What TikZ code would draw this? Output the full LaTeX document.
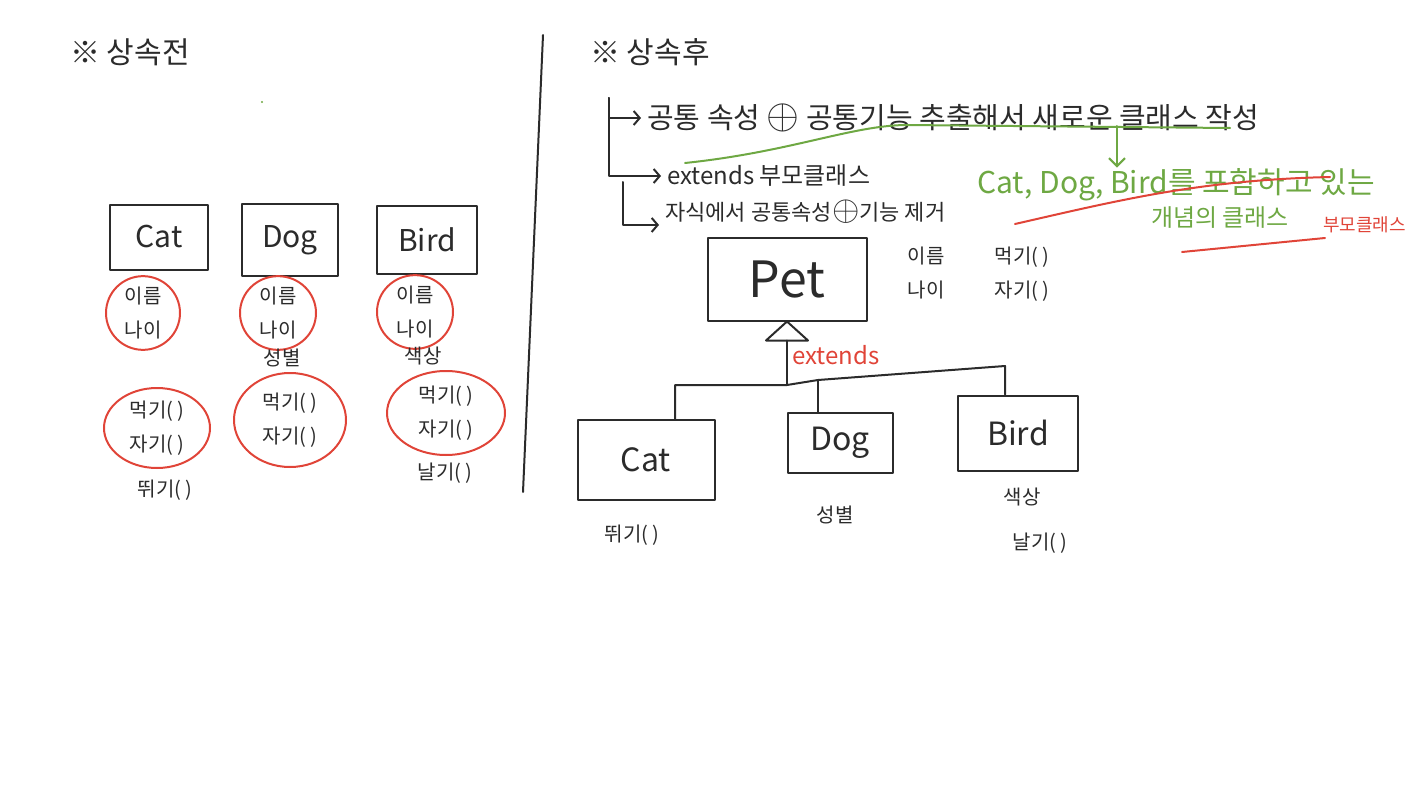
\documentclass[tikz,border=0pt]{standalone}
\usepackage{fontspec}
\setmainfont{Noto Sans CJK KR}
\usetikzlibrary{positioning, shapes.geometric, arrows.meta}
\definecolor{ink}{HTML}{2B2B2B}
\definecolor{redpen}{HTML}{E04438}
\definecolor{greenpen}{HTML}{6EA843}
\newcommand{\plusmark}{\scalebox{1.7}{$\oplus$}}

\begin{document}
\begin{tikzpicture}[
  x=1pt, y=-1pt,
  every node/.style={inner sep=1pt, text=ink},
  pen/.style={draw=ink, line width=2pt, line join=round, line cap=round},
  classbox/.style={pen, rectangle, inner sep=0pt, font=\fontsize{30}{32}\selectfont},
  redring/.style={draw=redpen, line width=2pt, ellipse, inner sep=0pt, align=center, font=\fontsize{20}{34}\selectfont},
  memo/.style={font=\fontsize{20}{34}\selectfont, align=center},
  heading/.style={font=\fontsize{30}{34}\selectfont},
  gpen/.style={draw=greenpen, line width=2pt, line cap=round},
  rpen/.style={draw=redpen, line width=2pt, line cap=round},
  arr/.style={pen, shorten >=5pt, -{Straight Barb[length=6pt, width=14pt]}}
]
  \useasboundingbox (0,0) rectangle (1422,800);

  \node[heading] (before) at (130,52) {※ 상속전};
  \node[heading] (after) at (650,52) {※ 상속후};
  \coordinate (divtop) at (543,35);
  \coordinate (divbot) at (523,492);
  \draw[pen] (divtop) -- (divbot);

  \node[classbox, minimum width=98, minimum height=65] (catL) at (159,237) {Cat};
  \node[classbox, minimum width=96, minimum height=72] (dogL) at (290,240) {Dog};
  \node[classbox, minimum width=100, minimum height=68] (birdL) at (427,240) {Bird};

  \node[redring, minimum width=74, minimum height=68] (nameL1) at (143,313) {이름\\나이};
  \node[redring, minimum width=76, minimum height=66] (nameL2) at (278,313) {이름\\나이};
  \node[redring, minimum width=76, minimum height=66] (nameL3) at (415,312) {이름\\나이};
  \node[memo] (sexL) at (282,358) {성별};
  \node[memo] (colorL) at (423,356) {색상};

  \node[redring, minimum width=106, minimum height=80] (actL1) at (157,428) {먹기( )\\자기( )};
  \node[redring, minimum width=112, minimum height=94] (actL2) at (290,420) {먹기( )\\자기( )};
  \node[redring, minimum width=118, minimum height=84] (actL3) at (446,413) {먹기( )\\자기( )};
  \node[memo] (runL) at (165,490) {뛰기( )};
  \node[memo] (flyL) at (445,473) {날기( )};
  \fill[greenpen] (262,102) circle (1.2);

  \node[anchor=west, font=\fontsize{29}{31}\selectfont] (step1) at (646,118) {공통 속성 \plusmark{} 공통기능 추출해서 새로운 클래스 작성};
  \node[anchor=west, font=\fontsize{24}{26}\selectfont] (step2) at (666,176) {extends 부모클래스};
  \node[anchor=west, font=\fontsize{22}{24}\selectfont] (step3) at (664,212) {자식에서 공통속성\plusmark{}기능 제거};
  \coordinate (brA) at (609,98);
  \coordinate (brB) at (623,182);
  \draw[arr] (brA) |- (step1.west);
  \draw[arr] (brA) |- (step2.west);
  \draw[arr] (brB) |- (step3.south west);

  \coordinate (ul1) at (685,163);
  \coordinate (ul2) at (905,125);
  \coordinate (ul3) at (1230,128);
  \draw[gpen] (ul1) .. controls (790,152) and (850,126) .. (ul2) -- (ul3);
  \node[anchor=west, text=greenpen, font=\fontsize{30}{32}\selectfont] (concept1) at (976,185) {Cat, Dog, Bird를 포함하고 있는};
  \node[anchor=west, text=greenpen, font=\fontsize{24}{26}\selectfont] (concept2) at (1150,218) {개념의 클래스};
  \node[anchor=west, text=redpen, font=\fontsize{18}{20}\selectfont] (parent) at (1322,225) {부모클래스};
  \coordinate (gA) at (1117,126);
  \draw[gpen, -{Straight Barb[length=8pt, width=16pt]}] (gA) -- (gA |- concept1.north);
  \coordinate (rs1) at (1015,224);
  \coordinate (rs2) at (1330,177);
  \draw[rpen] (rs1) .. controls (1120,200) and (1200,180) .. (rs2);
  \coordinate (ru1) at (1182,252);
  \coordinate (ru2) at (1325,238);
  \draw[rpen] (ru1) -- (ru2);

  \node[classbox, minimum width=159, minimum height=83, font=\fontsize{50}{52}\selectfont] (pet) at (787,279) {Pet};
  \node[memo] (petAttr) at (926,273) {이름\\나이};
  \node[memo] (petAct) at (1022,274) {먹기( )\\자기( )};

  \coordinate (tri) at ([yshift=-19pt]pet.south);
  \draw[pen] (pet.south) -- ++(-21,19) -- ++(42,0) -- cycle;
  \node[text=redpen, font=\fontsize{24}{26}\selectfont] (ext) at (836,355) {extends};

  \node[classbox, minimum width=137, minimum height=80, font=\fontsize{32}{34}\selectfont] (cat) at (646,460) {Cat};
  \node[classbox, minimum width=105, minimum height=60, font=\fontsize{32}{34}\selectfont] (dog) at (840,443) {Dog};
  \node[classbox, minimum width=120, minimum height=75, font=\fontsize{32}{34}\selectfont] (bird) at (1018,433) {Bird};

  \coordinate (hub) at (tri |- 0,385);
  \coordinate (cL) at (675,385);
  \coordinate (dM) at (818,380);
  \coordinate (bR) at (1005,366);
  \draw[pen] (tri) -- (hub);
  \draw[pen] (cat.north -| cL) -- (cL) -- (hub) -- (dM) -- (bR) -- (bird.north -| bR);
  \draw[pen] (dM) -- (dog.north -| dM);

  \node[memo] (runR) at (632,535) {뛰기( )};
  \node[memo] (sexR) at (835,515) {성별};
  \node[memo] (colorR) at (1022,497) {색상};
  \node[memo] (flyR) at (1040,543) {날기( )};
\end{tikzpicture}
\end{document}
